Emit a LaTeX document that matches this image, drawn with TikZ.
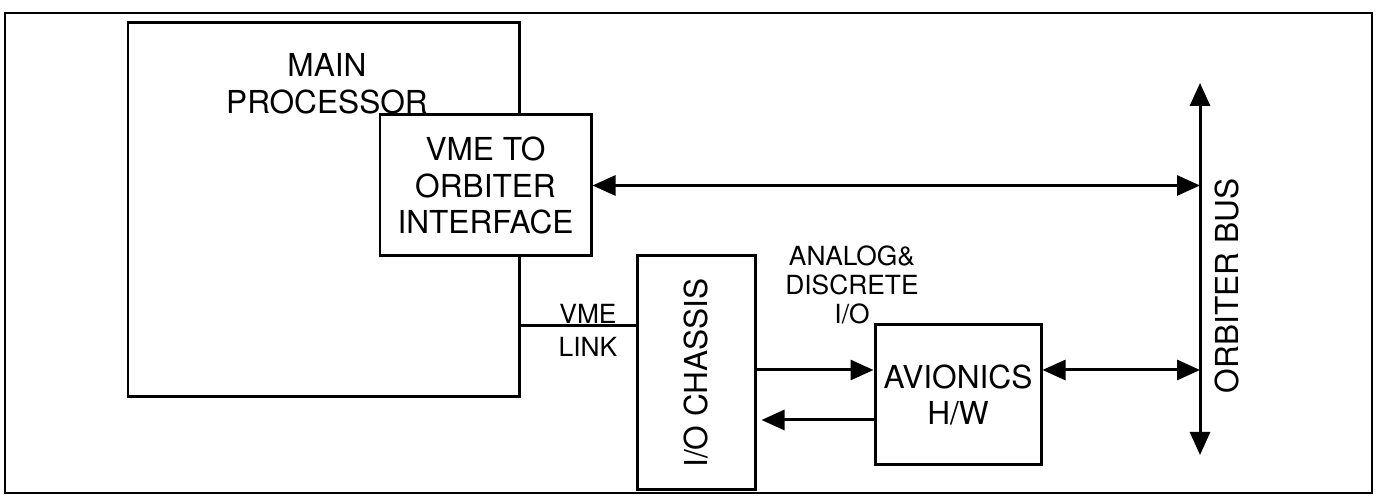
\documentclass[tikz,border=0pt]{standalone}
\usepackage{fontspec}
\setmainfont{TeX Gyre Heros}
\usetikzlibrary{arrows.meta,positioning,calc}

\begin{document}
\begin{tikzpicture}[
  bigtxt/.style={font=\fontsize{18}{21}\selectfont, align=center, inner sep=0pt},
  smalltxt/.style={font=\fontsize{15}{16.5}\selectfont, align=center, inner sep=0pt},
  blk/.style={draw, line width=1.7pt, fill=white, inner sep=0pt, font=\fontsize{18}{21}\selectfont, align=center},
  conn/.style={line width=1.7pt},
  tipr/.style={conn, -{Triangle[length=0.46cm,width=0.40cm]}},
  tipb/.style={conn, {Triangle[length=0.46cm,width=0.40cm]}-{Triangle[length=0.46cm,width=0.40cm]}}
]
\useasboundingbox (0,0) rectangle (27.6,10);
\draw[line width=1.3pt] (0.10,0.14) rectangle (27.44,9.74);

% processor side
\node[blk, minimum width=7.82cm, minimum height=7.48cm] (main) at (6.47,5.80) {};
\node[bigtxt, anchor=north] (mainlab) at (6.54,8.94) {MAIN\\PROCESSOR};
\node[blk, minimum width=4.22cm, minimum height=2.82cm] (iface) at (9.71,6.29) {VME TO\\ORBITER\\INTERFACE};

% i/o side
\node[blk, minimum width=2.36cm, minimum height=4.68cm] (chassis) at (13.92,2.54) {};
\node[bigtxt, rotate=90] (chassislab) at (chassis.center) {I/O CHASSIS};
\node[blk, minimum width=3.32cm, minimum height=2.80cm] (avion) at (19.16,2.10) {AVIONICS\\H/W};

% bus
\coordinate (bustop) at (24.0,8.34);
\coordinate (busbot) at (24.0,0.90);
\draw[tipb] (busbot) -- (bustop);
\node[bigtxt, rotate=90] (buslab) at (24.54,4.28) {ORBITER BUS};

% labels
\node[smalltxt, font=\fontsize{15}{18.7}\selectfont] (linklab) at (11.76,3.40) {VME\\LINK};
\node[smalltxt] (aiolab) at (17.04,4.30) {ANALOG\&\\DISCRETE\\I/O};

% connectors
\coordinate (link) at (0,3.48);
\coordinate (hi) at (0,2.60);
\coordinate (lo) at (0,1.60);
\draw[tipb] (iface.east) -- (iface.east -| bustop);
\draw[conn] (main.east |- link) -- (chassis.west |- link);
\draw[tipr] (chassis.east |- hi) -- (avion.west |- hi);
\draw[tipr, shorten >=0.1cm] (avion.west |- lo) -- (chassis.east |- lo);
\draw[tipb] (avion.east |- hi) -- (bustop |- hi);
\end{tikzpicture}
\end{document}
